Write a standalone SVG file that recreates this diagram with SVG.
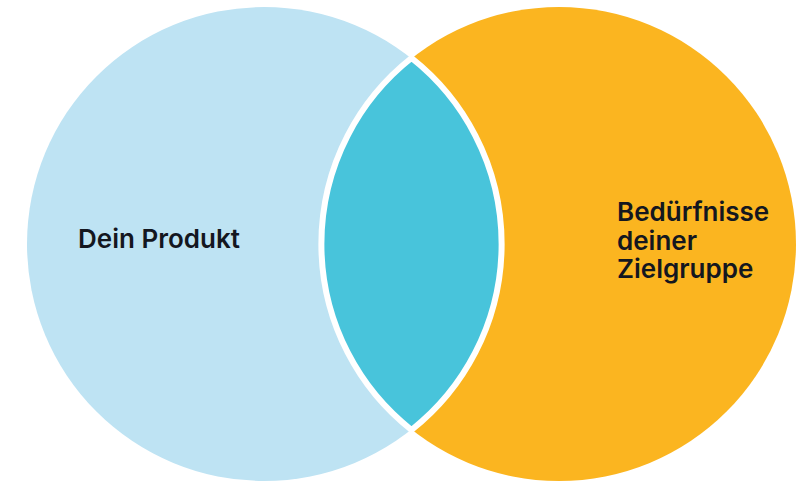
<svg xmlns="http://www.w3.org/2000/svg" width="800" height="484" viewBox="0 0 800 484">
  <style>
    .lbl { font-family: Inter, "Liberation Sans", sans-serif; font-weight: 600; font-size: 26px; fill: #14171f; }
  </style>
  <rect width="800" height="484" fill="#ffffff"/>
  <g id="node-produkt">
    <circle cx="264" cy="244" r="237" fill="#bee3f3"/>
    <text class="lbl" x="78" y="248">Dein Produkt</text>
  </g>
  <g id="node-zielgruppe">
    <circle cx="559" cy="244" r="237" fill="#fbb520"/>
    <text class="lbl" x="617" y="221">Bedürfnisse</text>
    <text class="lbl" x="617" y="250">deiner</text>
    <text class="lbl" x="617" y="278">Zielgruppe</text>
  </g>
  <g id="node-schnittmenge">
    <path d="M411.5 58 A237 237 0 0 1 411.5 430 A237 237 0 0 1 411.5 58 Z" fill="#48c4db" stroke="#ffffff" stroke-width="6" stroke-linejoin="round"/>
  </g>
  <g id="connectors"></g>
</svg>
